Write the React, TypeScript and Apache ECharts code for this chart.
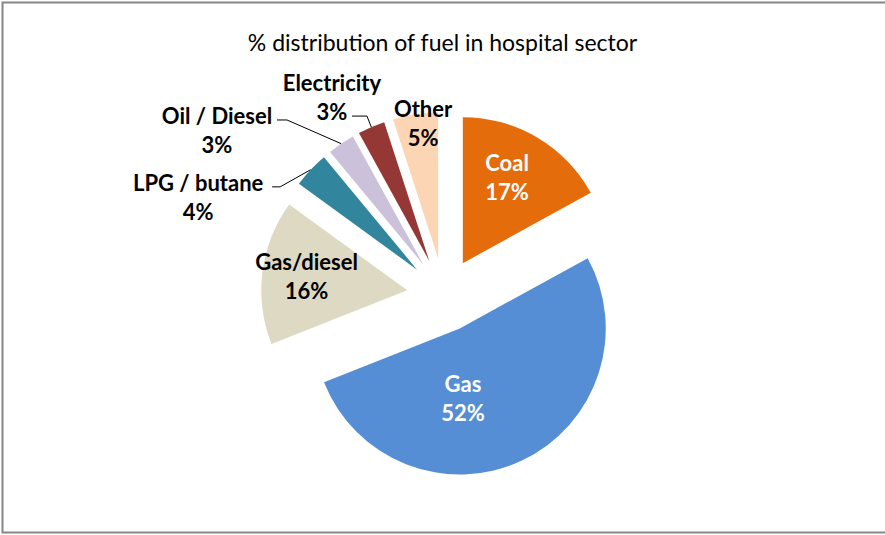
import React, { useEffect, useRef } from "react";
import * as echarts from "echarts";

const titleText = "% distribution of fuel in hospital sector";
const categories = ["Coal", "Gas", "Gas/diesel", "LPG / butane", "Oil / Diesel", "Electricity", "Other"];
const shares = [17, 52, 16, 4, 3, 3, 5];
const colors = ["#E46C0A", "#558ED5", "#DDD9C3", "#31859C", "#CCC1DA", "#953735", "#FCD5B5"];
const labelColors = ["#ffffff", "#ffffff", "#000000", "#000000", "#000000", "#000000", "#000000"];
// label placement relative to each slice's own centre: [fraction of radius, angle clockwise from 12 o'clock]
const labelPolar: number[][] = [
  [0.663, 27.2],
  [0.48, 177.4],
  [0.697, 278.1],
  [1.58, 288.4],
  [1.686, 303.1],
  [1.306, 329.3],
  [0.931, 353.6],
];
// leader line attach point relative to label centre [dx, dy, horizontal run]
const leaderAttach: (number[] | null)[] = [null, null, null, [74, -10, 8], [60, -10, 10], [20, 19, 15], null];

const CX = 444;
const CY = 295;
const R = 146;
const EXPLODE = 37;

export default function App() {
  const ref = useRef<HTMLDivElement>(null);
  useEffect(() => {
    if (!ref.current) return;
    const chart = echarts.init(ref.current, undefined, { renderer: "svg" });
    const total = shares.reduce((a, b) => a + b, 0);
    let cum = 0;
    const series = shares.map((v, i) => {
      const mid = ((cum + v / 2) / total) * 360;
      cum += v;
      const rad = (mid * Math.PI) / 180;
      const cx = CX + EXPLODE * Math.sin(rad);
      const cy = CY - EXPLODE * Math.cos(rad);
      const [rf, la] = labelPolar[i];
      const lrad = (la * Math.PI) / 180;
      const lx = cx + rf * R * Math.sin(lrad);
      const ly = cy - rf * R * Math.cos(lrad);
      const edge = [cx + R * Math.sin(rad), cy - R * Math.cos(rad)];
      const att = leaderAttach[i];
      return {
        type: "pie",
        silent: true,
        center: [cx, cy],
        radius: [0, R],
        startAngle: 90,
        clockwise: true,
        avoidLabelOverlap: false,
        emphasis: { disabled: true },
        data: categories.map((name, j) => ({
          name,
          value: shares[j],
          itemStyle: { color: j === i ? colors[j] : "rgba(0,0,0,0)" },
          label: { show: j === i },
          labelLine: { show: j === i && att != null },
        })),
        label: {
          position: att ? "outside" : "inside",
          formatter: "{b}\n{c}%",
          color: labelColors[i],
          fontFamily: "Lato",
          fontWeight: "bold",
          fontSize: 22,
          lineHeight: 29,
          rotate: 0,
        },
        labelLine: { lineStyle: { color: "#000", width: 1 }, smooth: false, length: 10, length2: 10 },
        labelLayout: () => {
          const o: any = { x: lx, y: ly, align: "center", verticalAlign: "middle" };
          if (att) {
            const ax = lx + att[0];
            const ay = ly + att[1];
            o.labelLinePoints = [edge, [ax + att[2], ay], [ax, ay]];
          }
          return o;
        },
      };
    });
    chart.setOption({
      animation: false,
      backgroundColor: "#ffffff",
      title: {
        text: titleText,
        left: "center",
        top: 25,
        textStyle: { fontFamily: "Lato", fontSize: 23, fontWeight: "normal", color: "#000" },
      },
      graphic: [
        {
          type: "rect",
          shape: { x: 2.5, y: 2.5, width: 900, height: 530 },
          style: { fill: "none", stroke: "#868686", lineWidth: 2 },
          silent: true,
        },
      ],
      series,
    } as any);
    return () => chart.dispose();
  }, []);
  return <div ref={ref} style={{ position: "fixed", left: 0, top: 0, width: 885, height: 535 }} />;
}
